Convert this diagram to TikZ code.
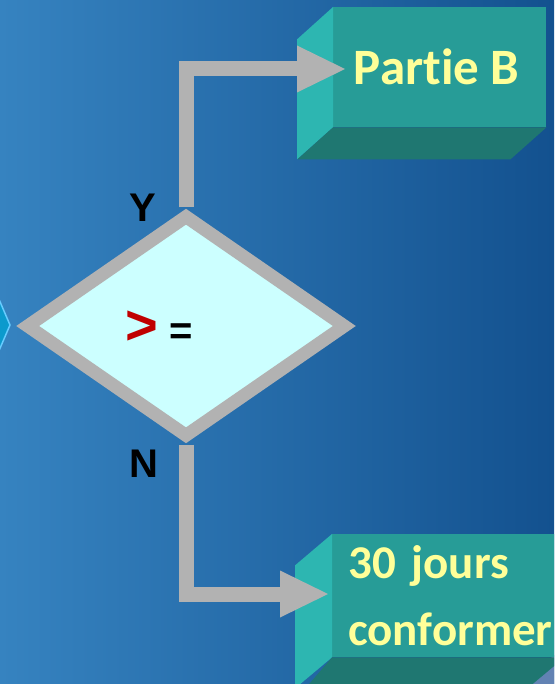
\documentclass[tikz,border=0pt]{standalone}
\usepackage{fontspec}
\setmainfont{Liberation Sans}
\newfontfamily\calibri[Ligatures=NoCommon]{Carlito}
\usetikzlibrary{shapes.geometric,arrows.meta}

\definecolor{bgleft}{HTML}{3683C0}
\definecolor{bgright}{HTML}{13518F}
\definecolor{facefront}{HTML}{279C97}
\definecolor{faceside}{HTML}{2DB6B1}
\definecolor{faceunder}{HTML}{1F7771}
\definecolor{boxtext}{HTML}{FFFF99}
\definecolor{flowgray}{HTML}{B2B2B2}
\definecolor{condfill}{HTML}{CCFFFF}
\definecolor{signred}{HTML}{C00000}
\definecolor{chevfill}{HTML}{0B9ACD}
\definecolor{chevedge}{HTML}{66CCFF}
\definecolor{slate}{HTML}{6282B3}

\begin{document}
\begin{tikzpicture}[x=1pt, y=-1pt, line join=miter]
        \tikzstyle{front}=[rectangle, fill=facefront, text=boxtext, inner sep=0pt, font=\calibri\bfseries]
        \tikzstyle{side}=[fill=faceside]
        \tikzstyle{under}=[fill=faceunder]
        \tikzstyle{flow}=[draw=flowgray, line width=15pt, -{Triangle[length=48pt, width=47pt, line width=0pt]}]
        \tikzstyle{lbl}=[font=\bfseries\fontsize{40}{48}\selectfont, inner sep=0pt]

        \useasboundingbox (0,0) rectangle (554,684);
        \clip (0,0) rectangle (554,684);
        \fill[left color=bgleft, right color=bgright] (0,0) rectangle (554,684);

        % bits of neighbouring shapes
        \filldraw[fill=chevfill, draw=chevedge, line width=1.5pt] (-2,297) -- (10,325) -- (-2,353) -- cycle;
        \fill[slate] (526,684) -- (554,655) -- (554,684) -- cycle;

        % box Partie B
        \node[front, minimum width=213pt, minimum height=120pt, anchor=north west, font=\calibri\bfseries\fontsize{51}{61}\selectfont] (partB) at (333,7) {\hspace*{-6pt}Partie B};
        \fill[side] (partB.north west) -- (partB.south west) -- ++(-36,32) -- ++(0,-120) -- cycle;
        \fill[under] (partB.south west) -- (partB.south east) -- ++(-36,32) -- ++(-213,0) -- cycle;

        % box 30 jours
        \node[front, minimum width=222pt, minimum height=123pt, anchor=north west, align=left, text width=200pt, inner xsep=16pt, font=\calibri\bfseries\fontsize{47}{67}\selectfont] (jours) at (332,534) {30 jours\\conformer};
        \fill[side] (jours.north west) -- (jours.south west) -- ++(-37,31) -- ++(0,-123) -- cycle;
        \fill[under] (jours.south west) -- (jours.south east) -- ++(-37,31) -- ++(-222,0) -- cycle;

        % decision
        \node[diamond, draw=flowgray, fill=condfill, line width=13pt, minimum width=322pt, minimum height=224pt, inner sep=0pt] (cond) at (186,326) {};
        \node[lbl, anchor=base west] (sign) at (125,344) {{\fontsize{56}{60}\selectfont\color{signred}>}\ =};
        \node[lbl] (yes) at (143,208) {Y};
        \node[lbl] (no) at (144,464) {N};

        \coordinate (tipB) at (345,69);
        \coordinate (tipC) at (328,594);
        \draw[flow] (cond.north) |- (tipB);
        \draw[flow] (cond.south) |- (tipC);
    \end{tikzpicture}
\end{document}
